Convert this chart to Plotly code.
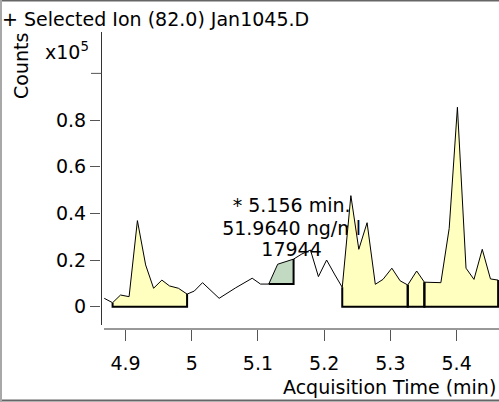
import plotly.graph_objects as go

# ---- data (counts in units of 1e5) ----
time_min = [4.8679, 4.8805, 4.8925, 4.9054, 4.9180, 4.9304, 4.9424, 4.9549, 4.9664, 4.9799,
            4.9930, 5.0039, 5.0163, 5.0414, 5.0664, 5.0913, 5.1039, 5.1163, 5.1298, 5.1538,
            5.1663, 5.1793, 5.1913, 5.2037, 5.2163, 5.2273, 5.2403, 5.2523, 5.2648, 5.2772,
            5.2888, 5.3022, 5.3147, 5.3262, 5.3397, 5.3513, 5.3762, 5.3888, 5.4012, 5.4142,
            5.4262, 5.4387, 5.4511, 5.4627]
counts_e5 = [0.036, 0.017, 0.050, 0.043, 0.369, 0.179, 0.079, 0.114, 0.089, 0.079,
             0.054, 0.067, 0.103, 0.036, 0.081, 0.122, 0.097, 0.097, 0.182, 0.204,
             0.226, 0.243, 0.129, 0.200, 0.136, 0.083, 0.476, 0.246, 0.360, 0.096,
             0.117, 0.165, 0.111, 0.093, 0.153, 0.105, 0.103, 0.336, 0.855, 0.165,
             0.117, 0.246, 0.119, 0.114]

peak_start = [4.8805, 5.1163, 5.2273, 5.3262, 5.3513]
peak_end = [4.9930, 5.1538, 5.3262, 5.3513, 5.4627]
peak_base = [0.0, 0.097, 0.0, 0.0, 0.0]
peak_color = ["#FFFFC0", "#C2D9C2", "#FFFFC0", "#FFFFC0", "#FFFFC0"]

label_lines = ["* 5.156 min.", "51.9640 ng/ml", "17944"]
label_x = 5.1508
label_y = [0.427, 0.329, 0.239]

x_ticks = [4.9, 5.0, 5.1, 5.2, 5.3, 5.4]
x_tick_text = ["4.9", "5", "5.1", "5.2", "5.3", "5.4"]
y_ticks = [0.0, 0.2, 0.4, 0.6, 0.8]
y_tick_text = ["0", "0.2", "0.4", "0.6", "0.8"]
y_unlabeled_tick = 1.0

# ---- layout geometry (pixels) ----
W, H = 499, 402
L, R, T, B = 101, 0, 32, 73
PW, PH = W - L - R, H - T - B
FONT = "Tahoma, DejaVu Sans, sans-serif"
FS = 19


def px(x):
    return (x - L) / PW


def py(y):
    return (H - B - y) / PH


fig = go.Figure()

# annotation text drawn first (peaks overlay it)
fig.add_trace(go.Scatter(x=[label_x] * 3, y=label_y, text=label_lines, mode="text",
                         textposition="middle center",
                         textfont=dict(family=FONT, size=FS, color="black"),
                         hoverinfo="skip", showlegend=False))

# integrated peaks
for s, e, b, c in zip(peak_start, peak_end, peak_base, peak_color):
    pts = [(t, v) for t, v in zip(time_min, counts_e5) if s - 1e-6 <= t <= e + 1e-6]
    xs = [s] + [p[0] for p in pts] + [e]
    ys = [b] + [p[1] for p in pts] + [b]
    fig.add_trace(go.Scatter(x=xs, y=ys, fill="toself", fillcolor=c, mode="lines",
                             line=dict(width=0), hoverinfo="skip", showlegend=False))

# chromatogram line
fig.add_trace(go.Scatter(x=time_min, y=counts_e5, mode="lines",
                         line=dict(color="black", width=1), showlegend=False))

# peak baselines and edges
for s, e, b in zip(peak_start, peak_end, peak_base):
    ys_s = counts_e5[min(range(len(time_min)), key=lambda i: abs(time_min[i] - s))]
    ys_e = counts_e5[min(range(len(time_min)), key=lambda i: abs(time_min[i] - e))]
    fig.add_trace(go.Scatter(x=[s, s, e, e], y=[ys_s, b, b, ys_e], mode="lines",
                             line=dict(color="black", width=2), hoverinfo="skip",
                             showlegend=False))

shapes = [
    # outer frame
    dict(type="line", xref="paper", yref="paper", x0=px(0), x1=px(W), y0=py(0.5), y1=py(0.5),
         line=dict(color="#666666", width=2)),
    dict(type="line", xref="paper", yref="paper", x0=px(0), x1=px(W), y0=py(400.5), y1=py(400.5),
         line=dict(color="#666666", width=2)),
    dict(type="line", xref="paper", yref="paper", x0=px(1), x1=px(1), y0=py(0), y1=py(H),
         line=dict(color="#A8A8A8", width=2)),
    # axes lines
    dict(type="line", xref="paper", yref="paper", x0=px(101.5), x1=px(101.5), y0=py(32), y1=py(325),
         line=dict(color="#333333", width=1)),
    dict(type="line", xref="paper", yref="paper", x0=px(104), x1=px(W), y0=py(329), y1=py(329),
         line=dict(color="#999999", width=2)),
    # unlabeled top tick of the y axis
    dict(type="line", xref="paper", yref="y", x0=px(91), x1=px(101.5),
         y0=y_unlabeled_tick, y1=y_unlabeled_tick, line=dict(color="#555555", width=1)),
]

annotations = [
    dict(text="+ Selected Ion (82.0) Jan1045.D", xref="paper", yref="paper", x=px(0), y=py(19),
         xanchor="left", yanchor="middle", showarrow=False,
         font=dict(family=FONT, size=FS, color="black")),
    dict(text="Counts", xref="paper", yref="paper", x=px(21), y=py(66), textangle=-90,
         xanchor="center", yanchor="middle", showarrow=False,
         font=dict(family=FONT, size=FS, color="black")),
    dict(text="x10<sup>5</sup>", xref="paper", yref="paper", x=px(43), y=py(51),
         xanchor="left", yanchor="middle", showarrow=False,
         font=dict(family=FONT, size=FS, color="black")),
    dict(text="Acquisition Time (min)", xref="paper", yref="paper", x=px(498), y=py(387),
         xanchor="right", yanchor="middle", showarrow=False,
         font=dict(family=FONT, size=FS, color="black")),
]

fig.update_layout(
    width=W, height=H,
    margin=dict(l=L, r=R, t=T, b=B, pad=0),
    paper_bgcolor="white", plot_bgcolor="white",
    showlegend=False,
    shapes=shapes, annotations=annotations,
    xaxis=dict(range=[4.863, 5.464], tickvals=x_ticks, ticktext=x_tick_text,
               ticks="outside", ticklen=11, tickwidth=1, tickcolor="#555555",
               ticklabelstandoff=6,
               showline=False, showgrid=False, zeroline=False,
               tickfont=dict(family=FONT, size=FS, color="black")),
    yaxis=dict(range=[-0.0956, 1.1774], tickvals=y_ticks, ticktext=y_tick_text,
               ticks="outside", ticklen=10, tickwidth=1, tickcolor="#555555",
               showline=False, showgrid=False, zeroline=False,
               tickfont=dict(family=FONT, size=FS, color="black")),
)

fig.write_html("out.html", config={"displayModeBar": False},
               post_script="document.body.style.margin='0';document.body.style.padding='0';")
